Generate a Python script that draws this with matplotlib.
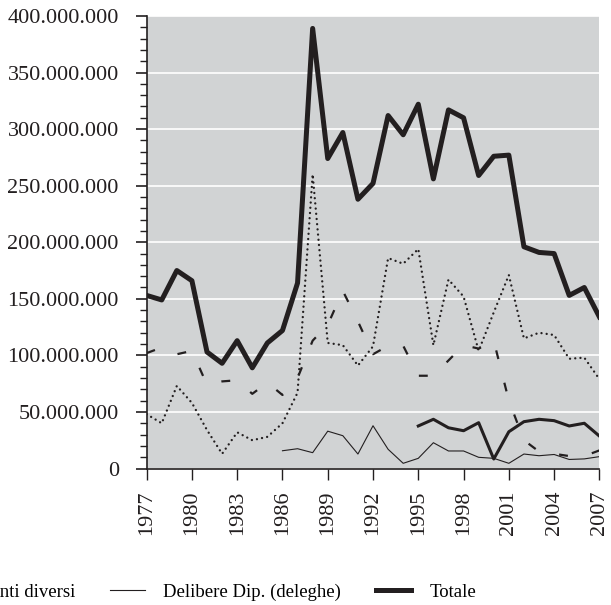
import matplotlib
matplotlib.use("Agg")
import matplotlib.pyplot as plt
from matplotlib.ticker import FuncFormatter, MultipleLocator

plt.rcParams['font.family'] = ['Liberation Serif', 'DejaVu Serif']

anni = list(range(1977, 2008))

# valori in milioni
totale = [153, 149, 175, 166, 103, 93, 113, 89, 111, 122, 164, 389, 274, 297, 238, 252,
          312, 295, 322, 256, 317, 310, 259, 276, 277, 196, 191, 190, 153, 160, 134]
punteggiata = [48, 40, 73, 58, 34, 13, 32, 25, 28, 40, 67, 260, 111, 109, 91, 108,
               186, 181, 194, 109, 167, 152, 104, 138, 171, 115, 120, 118, 97, 98, 79]
tratteggiata = [102, 107, 101, 104, 74, 77, 78, 66, 76, 65, 80, 113, 127, 157, 130, 101,
                108.5, 108.5, 82, 82, 95.5, 109, 106, 113, 60, 25, 15, 13, 11, 11, 16]
anni_prov = list(range(1995, 2008))
provvedimenti = [37.6, 43.5, 36, 33.4, 40.5, 8.4, 32.5, 41.4, 43.5, 42.3, 37.6, 40, 28.7]
anni_del = list(range(1986, 2008))
delibere_dip = [15.7, 17.5, 14, 33, 29, 12.8, 37.8, 17, 4.6, 9, 22.8, 15.5, 15.5, 9.9,
                9, 4.6, 12.8, 11.3, 12.4, 8, 8.5, 10.5]

col = '#231f20'
fig = plt.figure(figsize=(6.11, 6.05), dpi=100)
ax = fig.add_axes([0.240, 0.2256, 0.741, 0.748])
ax.set_facecolor('#d1d3d4')

M = 1e6
ax.plot(anni, [v * M for v in punteggiata], color=col, lw=1.7,
        linestyle=(0, (0.01, 2.2)), dash_capstyle='round')
ax.plot(anni, [v * M for v in tratteggiata], color=col, lw=1.6,
        linestyle=(0, (4, 11)))
l_prov, = ax.plot(anni_prov, [v * M for v in provvedimenti], color=col, lw=2.2,
                  label='Provvedimenti diversi')
l_del, = ax.plot(anni_del, [v * M for v in delibere_dip], color=col, lw=0.8,
                 label='Delibere Dip. (deleghe)')
l_tot, = ax.plot(anni, [v * M for v in totale], color=col, lw=3.6, label='Totale')

ax.set_xlim(1977, 2007)
ax.set_ylim(0, 400 * M)
ax.set_xticks(list(range(1977, 2008, 3)))
ax.yaxis.set_major_locator(MultipleLocator(50 * M))
ax.yaxis.set_minor_locator(MultipleLocator(10 * M))
ax.yaxis.set_major_formatter(FuncFormatter(lambda v, p: f"{int(round(v)):,}".replace(",", ".")))
ax.grid(axis='y', color='white', lw=1.2)
ax.set_axisbelow(True)

for s in ['top', 'right']:
    ax.spines[s].set_visible(False)
for s in ['left', 'bottom']:
    ax.spines[s].set_color(col)
    ax.spines[s].set_linewidth(1.2)

ax.tick_params(axis='y', which='major', length=8, width=1.2, pad=12,
               labelsize=16, colors=col)
ax.tick_params(axis='y', which='minor', length=5, width=1.0, colors=col)
ax.tick_params(axis='x', which='major', length=8, width=1.0, pad=8,
               labelsize=16, colors=col, labelrotation=90)

fig.legend(handles=[l_prov, l_del, l_tot], loc='center right',
           bbox_to_anchor=(0.779, 0.0215), ncol=3, frameon=False,
           fontsize=13.5, handlelength=1.87, handletextpad=0.96,
           columnspacing=1.87, borderpad=0, borderaxespad=0)

fig.savefig('out.png', dpi=100)
